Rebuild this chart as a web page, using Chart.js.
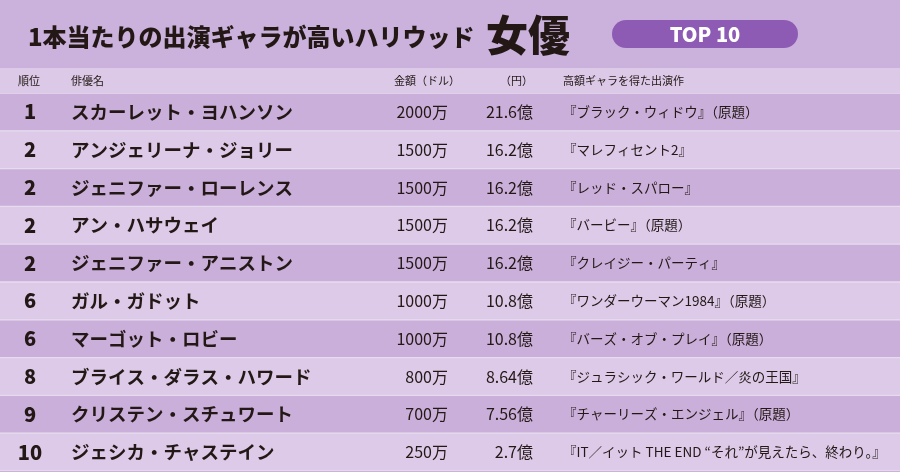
<!DOCTYPE html>
<html><head><meta charset="utf-8">
<script src="https://cdn.jsdelivr.net/npm/chart.js@4/dist/chart.umd.min.js"></script>
<style>html,body{margin:0;padding:0;background:#cbb2dc}canvas{display:block}</style>
</head><body>
<div style="width:900px;height:472px"><canvas id="c"></canvas></div>
<script>
const ranks = ['1','2','2','2','2','6','6','8','9','10'];
const names = ['スカーレット・ヨハンソン','アンジェリーナ・ジョリー','ジェニファー・ローレンス','アン・ハサウェイ','ジェニファー・アニストン','ガル・ガドット','マーゴット・ロビー','ブライス・ダラス・ハワード','クリステン・スチュワート','ジェシカ・チャステイン'];
const dollars = ['2000万','1500万','1500万','1500万','1500万','1000万','1000万','800万','700万','250万'];
const yen = ['21.6億','16.2億','16.2億','16.2億','16.2億','10.8億','10.8億','8.64億','7.56億','2.7億'];
const works = ['『ブラック・ウィドウ』（原題）','『マレフィセント2』','『レッド・スパロー』','『バービー』（原題）','『クレイジー・パーティ』','『ワンダーウーマン1984』（原題）','『バーズ・オブ・プレイ』（原題）','『ジュラシック・ワールド／炎の王国』','『チャーリーズ・エンジェル』（原題）','『IT／イット THE END “それ”が見えたら、終わり。』'];
const headers = ['順位','俳優名','金額（ドル）','（円）','高額ギャラを得た出演作'];
const title = '1本当たりの出演ギャラが高いハリウッド';
const titleBig = '女優';
const badge = 'TOP 10';

const JP = '"Noto Sans CJK JP"';
const plugin = {
  id:'tbl',
  beforeDraw(ch){
    const c=ch.ctx;
    c.save();
    c.fillStyle='#cbb2dc';c.fillRect(0,0,ch.width,ch.height);
    c.fillStyle='#dbc9e7';c.fillRect(0,68,ch.width,25);
    c.restore();
  },
  afterDraw(ch){
    const c=ch.ctx, ys=ch.scales.y;
    c.save();
    c.fillStyle='#231815';
    c.textBaseline='middle';
    c.font='900 24px '+JP;
    c.fillText(title,28,37);
    c.font='900 42px '+JP;
    c.fillText(titleBig,486,35);
    c.fillStyle='#8e5bb4';
    c.beginPath();c.roundRect(612,20,186,28,14);c.fill();
    c.fillStyle='#fff';c.font='900 20px '+JP;c.textAlign='center';
    c.fillText(badge,705,34);
    c.fillStyle='#231815';c.font='400 11px '+JP;
    c.textAlign='left';
    c.fillText(headers[0],18,81);
    c.fillText(headers[1],71,81);
    c.textAlign='right';
    c.fillText(headers[2],460,81);
    c.fillText(headers[3],533,81);
    c.textAlign='left';
    c.fillText(headers[4],563,81);
    names.forEach((n,i)=>{
      const y=ys.getPixelForValue(i);
      c.font='900 20px '+JP;c.textAlign='center';
      c.fillText(ranks[i],30,y);
      c.textAlign='left';c.font='700 18.5px '+JP;
      c.fillText(n,71,y);
      c.font='400 16px '+JP;c.textAlign='right';
      c.fillText(dollars[i],448,y);
      c.fillText(yen[i],533,y);
      c.textAlign='left';c.font='400 13.5px '+JP;
      c.fillText(works[i],563,y);
    });
    c.restore();
  }
};
new Chart(document.getElementById('c'),{
  type:'bar',
  data:{labels:names,datasets:[{data:names.map(()=>1),
    backgroundColor:names.map((_,i)=>i%2?'#dccae8':'#c9afda'),
    borderColor:'#e6dcee',borderWidth:{top:1,bottom:1,left:0,right:0},borderSkipped:false,
    barPercentage:1,categoryPercentage:1}]},
  options:{indexAxis:'y',responsive:true,maintainAspectRatio:false,animation:false,
    layout:{padding:{top:93,bottom:1,left:0,right:0}},
    plugins:{legend:{display:false},tooltip:{enabled:false}},
    scales:{x:{display:false,min:0,max:1},y:{display:false}}},
  plugins:[plugin]
});
</script>
</body></html>
